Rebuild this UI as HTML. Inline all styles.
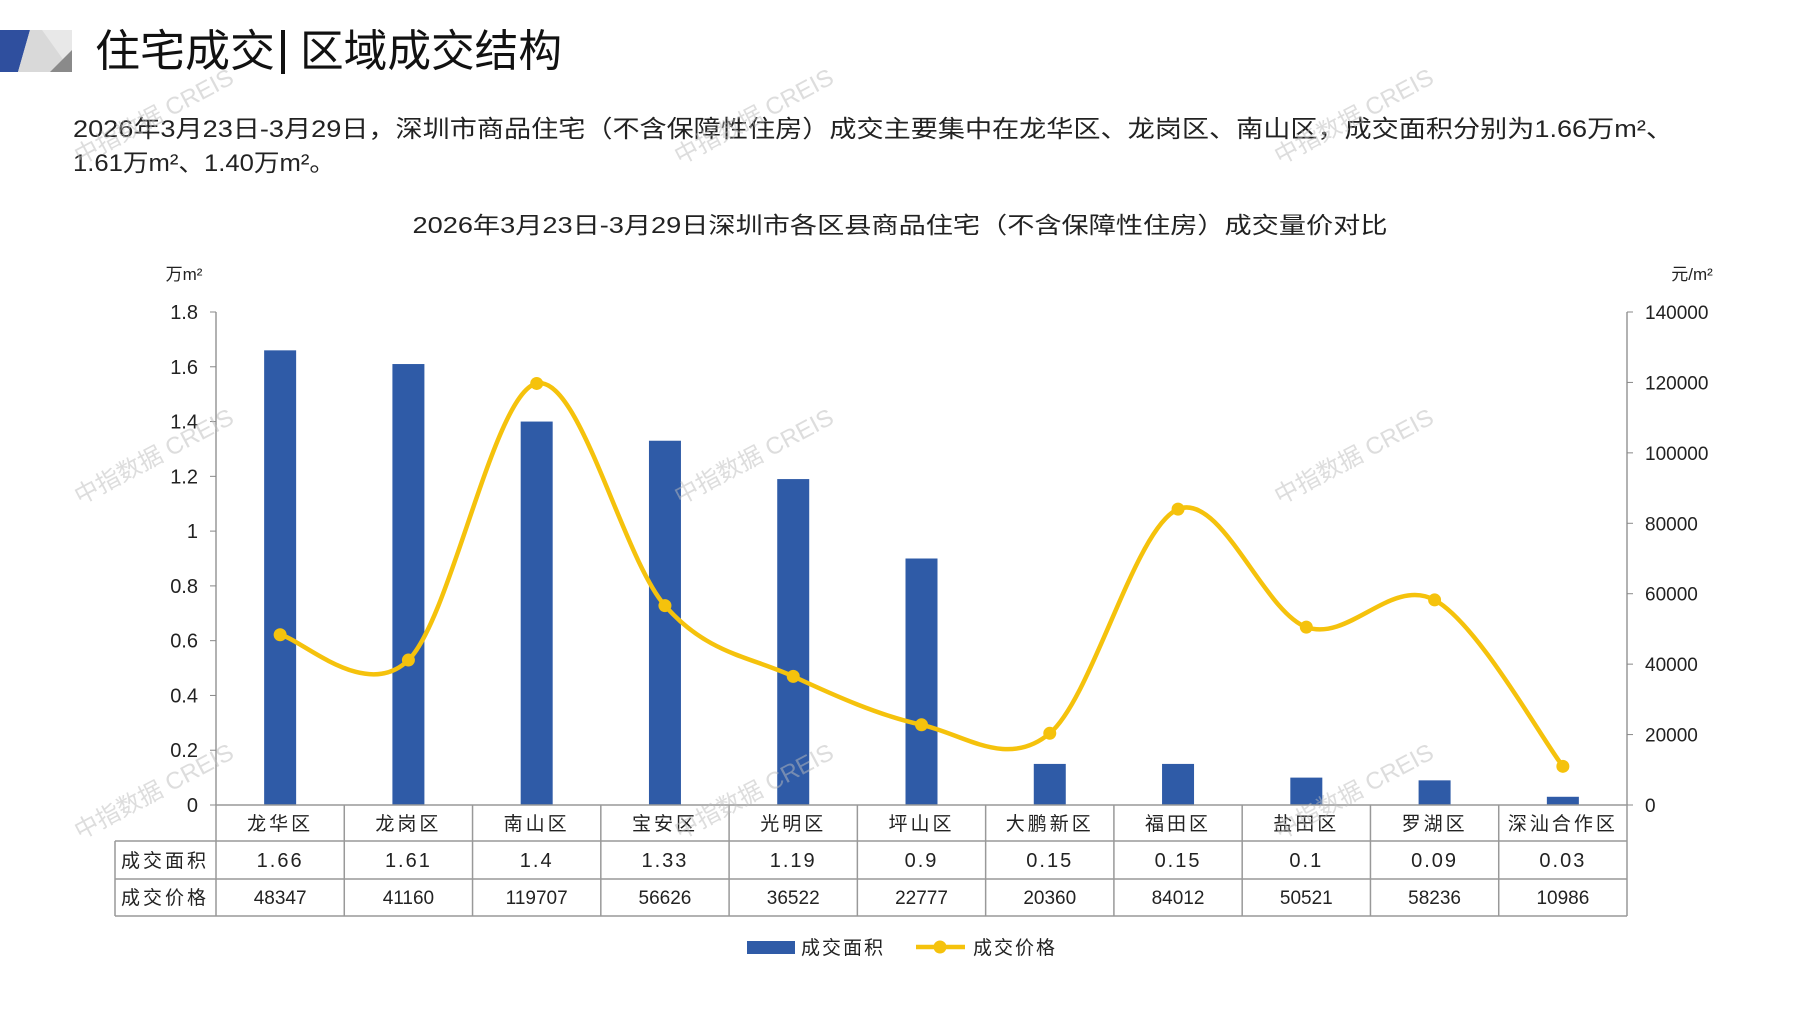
<!DOCTYPE html>
<html><head><meta charset="utf-8"><style>
body{margin:0;background:#fff;}
svg{display:block;font-family:"Liberation Sans","Noto Sans CJK SC",sans-serif;}
</style></head><body>
<svg id="s" width="1797" height="1010" viewBox="0 0 1797 1010" xmlns="http://www.w3.org/2000/svg">
<rect width="1797" height="1010" fill="#fff"/>
<polygon points="0,30 30,30 18,72 0,72" fill="#2f4f9e"/>
<polygon points="30,30 72,30 72,72 18,72" fill="#d9d9d9"/>
<polygon points="42,30 72,30 72,72" fill="#e8e8e8"/>
<polygon points="50,72 72,50 72,72" fill="#8a8a8a"/>
<text x="95" y="66" font-size="44" fill="#111" textLength="180" lengthAdjust="spacingAndGlyphs">住宅成交</text>
<rect x="281" y="30" width="4" height="44" fill="#111"/>
<text x="300" y="66" font-size="44" fill="#111" textLength="262" lengthAdjust="spacingAndGlyphs">区域成交结构</text>
<text x="73" y="137" font-size="24" fill="#222" textLength="1600" lengthAdjust="spacingAndGlyphs">2026年3月23日-3月29日，深圳市商品住宅（不含保障性住房）成交主要集中在龙华区、龙岗区、南山区，成交面积分别为1.66万m²、</text>
<text x="73" y="171" font-size="24" fill="#222" textLength="262" lengthAdjust="spacingAndGlyphs">1.61万m²、1.40万m²。</text>
<text x="900" y="233" font-size="23" fill="#222" text-anchor="middle" textLength="975" lengthAdjust="spacingAndGlyphs">2026年3月23日-3月29日深圳市各区县商品住宅（不含保障性住房）成交量价对比</text>
<text x="184" y="280" font-size="17" fill="#222" text-anchor="middle">万m²</text>
<text x="1692" y="280" font-size="17" fill="#222" text-anchor="middle">元/m²</text>
<g id="g"></g>
</svg>
<script>
var g=document.getElementById('g'),h='';
var L=216,R=1627,Z=805,T=312,cw=(R-L)/11;
var cats=['龙华区','龙岗区','南山区','宝安区','光明区','坪山区','大鹏新区','福田区','盐田区','罗湖区','深汕合作区'];
var a=[1.66,1.61,1.4,1.33,1.19,0.9,0.15,0.15,0.1,0.09,0.03];
var p=[48347,41160,119707,56626,36522,22777,20360,84012,50521,58236,10986];
var sp=Z-T;
h+='<line x1="'+L+'" y1="'+T+'" x2="'+L+'" y2="'+Z+'" stroke="#888" stroke-width="1.3"/>';
h+='<line x1="'+R+'" y1="'+T+'" x2="'+R+'" y2="'+Z+'" stroke="#888" stroke-width="1.3"/>';
var lt=['0','0.2','0.4','0.6','0.8','1','1.2','1.4','1.6','1.8'];
for(var i=0;i<10;i++){var y=Z-sp*i/9;h+='<line x1="'+(L-6)+'" y1="'+y+'" x2="'+L+'" y2="'+y+'" stroke="#888"/>';
h+='<text x="198" y="'+(y+7)+'" font-size="20" fill="#222" text-anchor="end">'+lt[i]+'</text>';}
for(var i=0;i<8;i++){var y=Z-sp*i/7;h+='<line x1="'+R+'" y1="'+y+'" x2="'+(R+6)+'" y2="'+y+'" stroke="#888"/>';
h+='<text x="1645" y="'+(y+7)+'" font-size="19" fill="#222">'+(i*20000)+'</text>';}
var pts=[];
for(var i=0;i<11;i++){var cx=L+cw*(i+0.5);var bh=a[i]/1.8*sp;
h+='<rect x="'+(cx-16)+'" y="'+(Z-bh)+'" width="32" height="'+bh+'" fill="#2f5ba7"/>';
pts.push([cx,Z-p[i]/140000*sp]);}
var d='M'+pts[0][0]+','+pts[0][1];
for(var i=0;i<10;i++){var p0=pts[Math.max(0,i-1)],p1=pts[i],p2=pts[i+1],p3=pts[Math.min(10,i+2)];
d+=' C'+(p1[0]+(p2[0]-p0[0])/6)+','+(p1[1]+(p2[1]-p0[1])/6)+' '+(p2[0]-(p3[0]-p1[0])/6)+','+(p2[1]-(p3[1]-p1[1])/6)+' '+p2[0]+','+p2[1];}
h+='<path d="'+d+'" fill="none" stroke="#f5c20c" stroke-width="4.5"/>';
pts.forEach(function(q){h+='<circle cx="'+q[0]+'" cy="'+q[1]+'" r="6.5" fill="#f5c20c"/>';});
var c='#999';
h+='<line x1="'+L+'" y1="'+Z+'" x2="'+R+'" y2="'+Z+'" stroke="'+c+'" stroke-width="1.5"/>';
[841,879,916].forEach(function(y){h+='<line x1="115" y1="'+y+'" x2="'+R+'" y2="'+y+'" stroke="'+c+'" stroke-width="1.5"/>';});
h+='<line x1="115" y1="841" x2="115" y2="916" stroke="'+c+'" stroke-width="1.5"/>';
for(var i=0;i<=11;i++){var x=L+cw*i;h+='<line x1="'+x+'" y1="'+Z+'" x2="'+x+'" y2="916" stroke="'+c+'" stroke-width="1.5"/>';}
h+='<text x="165" y="867" font-size="19" fill="#222" text-anchor="middle" letter-spacing="3">成交面积</text>';
h+='<text x="165" y="904" font-size="19" fill="#222" text-anchor="middle" letter-spacing="3">成交价格</text>';
for(var i=0;i<11;i++){var cx=L+cw*(i+0.5);
h+='<text x="'+cx+'" y="830" font-size="19" fill="#222" text-anchor="middle" letter-spacing="3">'+cats[i]+'</text>';
h+='<text x="'+cx+'" y="867" font-size="20" fill="#222" text-anchor="middle" letter-spacing="2">'+a[i]+'</text>';
h+='<text x="'+cx+'" y="904" font-size="19" fill="#222" text-anchor="middle">'+p[i]+'</text>';}
h+='<rect x="747" y="941" width="48" height="13" fill="#2f5ba7"/>';
h+='<text x="801" y="954" font-size="19" fill="#222" letter-spacing="2">成交面积</text>';
h+='<line x1="916" y1="947" x2="965" y2="947" stroke="#f5c20c" stroke-width="4.5"/><circle cx="940" cy="947" r="6.5" fill="#f5c20c"/>';
h+='<text x="973" y="954" font-size="19" fill="#222" letter-spacing="2">成交价格</text>';
[[80,165],[680,165],[1280,165],[80,505],[680,505],[1280,505],[80,840],[680,840],[1280,840]].forEach(function(w){
h+='<text x="'+w[0]+'" y="'+w[1]+'" font-size="24" fill="#bbb" fill-opacity="0.5" transform="rotate(-28 '+w[0]+' '+w[1]+')">中指数据 CREIS</text>';});
g.innerHTML=h;
</script>
</body></html>
